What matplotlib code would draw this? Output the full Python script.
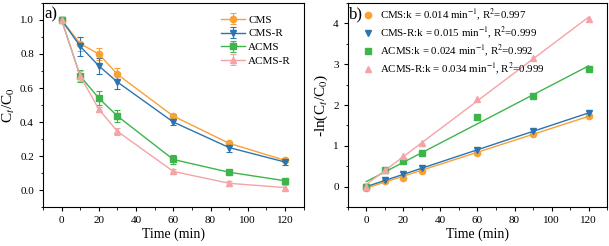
import numpy as np
import matplotlib
matplotlib.use("Agg")
import matplotlib.pyplot as plt
from matplotlib.ticker import MultipleLocator

plt.rcParams['font.family'] = ['Liberation Serif', 'DejaVu Serif']
plt.rcParams['mathtext.fontset'] = 'stix'

# data
t = [0, 10, 20, 30, 60, 90, 120]
names = ['CMS', 'CMS-R', 'ACMS', 'ACMS-R']
cms = [1.0, 0.86, 0.80, 0.68, 0.435, 0.275, 0.175]
cms_r = [1.0, 0.845, 0.73, 0.635, 0.40, 0.25, 0.165]
acms = [1.0, 0.67, 0.54, 0.435, 0.18, 0.105, 0.055]
acms_r = [1.0, 0.67, 0.475, 0.345, 0.11, 0.04, 0.015]
err_cms = [0.01, 0.04, 0.035, 0.035, 0.01, 0.01, 0.01]
err_cms_r = [0.01, 0.055, 0.045, 0.04, 0.02, 0.025, 0.02]
err_acms = [0.01, 0.035, 0.04, 0.035, 0.025, 0.01, 0.01]
err_acms_r = [0.01, 0.03, 0.015, 0.02, 0.015, 0.015, 0.015]

ln_cms = [-0.02, 0.15, 0.22, 0.39, 0.83, 1.28, 1.74]
ln_cms_r = [0.0, 0.16, 0.30, 0.45, 0.90, 1.37, 1.80]
ln_acms = [0.0, 0.40, 0.62, 0.83, 1.70, 2.23, 2.89]
ln_acms_r = [0.0, 0.40, 0.75, 1.08, 2.16, 3.16, 4.10]
fit_labels = ['CMS:k = 0.014 min$^{-1}$, R$^2$=0.997',
              'CMS-R:k = 0.015 min$^{-1}$, R$^2$=0.999',
              'ACMS:k = 0.024 min$^{-1}$, R$^2$=0.992',
              'ACMS-R:k = 0.034 min$^{-1}$, R$^2$=0.999']

colors = ['#F7A137', '#2B74B0', '#3DB54A', '#F5A3A6']
markers = ['o', 'v', 's', '^']

fig = plt.figure(figsize=(6.09, 2.46), dpi=100)
ax1 = fig.add_axes([0.0706, 0.158, 0.428, 0.830])
ax2 = fig.add_axes([0.571, 0.158, 0.426, 0.830])

# panel a
ys = [cms, cms_r, acms, acms_r]
errs = [err_cms, err_cms_r, err_acms, err_acms_r]
for y, e, c, m, n in zip(ys, errs, colors, markers, names):
    ax1.errorbar(t, y, yerr=e, color=c, marker=m, markersize=4.5, lw=1,
                 elinewidth=0.8, capsize=2, capthick=0.8, label=n)
ax1.set_xlim(-10, 130)
ax1.set_ylim(-0.1, 1.1)
ax1.xaxis.set_major_locator(MultipleLocator(20))
ax1.xaxis.set_minor_locator(MultipleLocator(10))
ax1.yaxis.set_major_locator(MultipleLocator(0.2))
ax1.yaxis.set_minor_locator(MultipleLocator(0.1))
ax1.yaxis.set_major_formatter(matplotlib.ticker.FormatStrFormatter('%.1f'))
ax1.set_xlabel('Time (min)', fontsize=10, labelpad=2)
ax1.set_ylabel(r'C$_t$/C$_0$', fontsize=11, labelpad=2)
ax1.legend(loc='upper right', frameon=False, fontsize=8, handlelength=2.2,
           handletextpad=0.3, labelspacing=0.35, bbox_to_anchor=(0.99, 0.99))
ax1.text(0.005, 0.985, 'a)', transform=ax1.transAxes, fontsize=12,
         va='top', ha='left')

# panel b
lns = [ln_cms, ln_cms_r, ln_acms, ln_acms_r]
tt = np.array(t)
for y, c, m, lab in zip(lns, colors, markers, fit_labels):
    ax2.plot(t, y, linestyle='none', color=c, marker=m, markersize=4.5, label=lab)
    k, b = np.polyfit(tt, y, 1)
    ax2.plot([tt.min(), tt.max()], [b + k * tt.min(), b + k * tt.max()], color=c, lw=1)
ax2.set_xlim(-10, 130)
ax2.set_ylim(-0.5, 4.5)
ax2.xaxis.set_major_locator(MultipleLocator(20))
ax2.xaxis.set_minor_locator(MultipleLocator(10))
ax2.yaxis.set_major_locator(MultipleLocator(1))
ax2.yaxis.set_minor_locator(MultipleLocator(0.5))
ax2.set_xlabel('Time (min)', fontsize=10, labelpad=2)
ax2.set_ylabel(r'-ln(C$_t$/C$_0$)', fontsize=11, labelpad=2)
ax2.legend(loc='upper left', frameon=False, fontsize=7.8, handlelength=1.0,
           handletextpad=0.6, labelspacing=0.2, bbox_to_anchor=(0.02, 1.03))
ax2.text(0.005, 0.985, 'b)', transform=ax2.transAxes, fontsize=12,
         va='top', ha='left')

for ax in (ax1, ax2):
    ax.tick_params(which='both', direction='out', labelsize=8, top=False, right=False)
    ax.tick_params(which='major', length=3, width=0.8)
    ax.tick_params(which='minor', length=1.8, width=0.6)
    for s in ax.spines.values():
        s.set_linewidth(0.8)

fig.savefig('out.png', dpi=100)
